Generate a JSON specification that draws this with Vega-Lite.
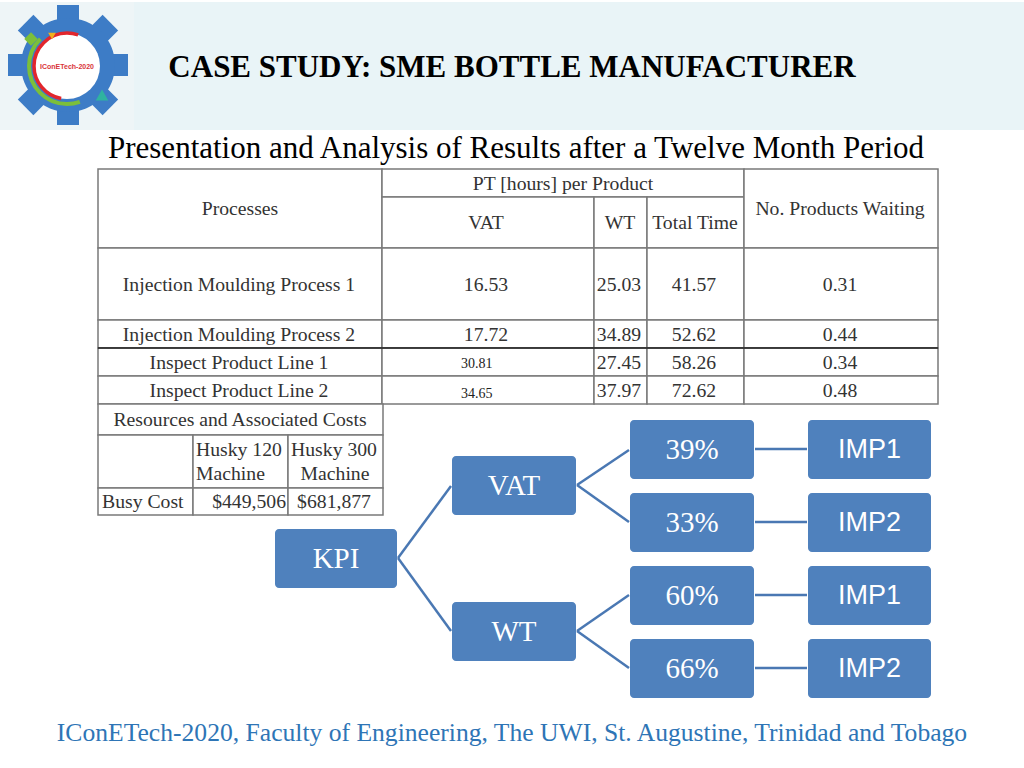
{
  "$schema": "https://vega.github.io/schema/vega-lite/v6.json",
  "width": 1024,
  "height": 768,
  "autosize": {"type": "fit", "contains": "padding"},
  "padding": 0,
  "background": "white",
  "config": {"view": {"stroke": null}},
  "datasets": {
    "band": [{"x": 0, "x2": 1024, "y": 2, "y2": 130}],
    "logoBg": [{"x": 0, "x2": 134, "y": 2, "y2": 130}],
    "gearBody": [{"x": 68, "y": 65}],
    "gearTeethA": [{"x": 117, "y": 65}, {"x": 68, "y": 16}, {"x": 19, "y": 65}, {"x": 68, "y": 114}],
    "gearTeethB": [{"x": 102.6, "y": 30.4}, {"x": 33.4, "y": 30.4}, {"x": 33.4, "y": 99.6}, {"x": 102.6, "y": 99.6}],
    "logoInner": [{"x": 67, "y": 66}],
    "logoLeaf": [{"x": 31, "y": 39}],
    "logoBolt": [{"x": 52, "y": 36}],
    "logoFlask": [{"x": 102, "y": 95}],
    "logoText": [{"x": 67, "y": 67, "t": "IConETech-2020"}],
    "title": [{"x": 512, "y": 68, "t": "CASE STUDY: SME BOTTLE MANUFACTURER"}],
    "subtitle": [{"x": 516, "y": 149, "t": "Presentation and Analysis of Results after a Twelve Month Period"}],
    "footer": [{"x": 512, "y": 733, "t": "IConETech-2020, Faculty of Engineering, The UWI, St. Augustine, Trinidad and Tobago"}],
    "cells": [
      {"x": 98, "x2": 382, "y": 169, "y2": 248},
      {"x": 382, "x2": 744, "y": 169, "y2": 197},
      {"x": 382, "x2": 594, "y": 197, "y2": 248},
      {"x": 594, "x2": 647, "y": 197, "y2": 248},
      {"x": 647, "x2": 744, "y": 197, "y2": 248},
      {"x": 744, "x2": 938, "y": 169, "y2": 248},
      {"x": 98, "x2": 382, "y": 248, "y2": 320},
      {"x": 382, "x2": 594, "y": 248, "y2": 320},
      {"x": 594, "x2": 647, "y": 248, "y2": 320},
      {"x": 647, "x2": 744, "y": 248, "y2": 320},
      {"x": 744, "x2": 938, "y": 248, "y2": 320},
      {"x": 98, "x2": 382, "y": 320, "y2": 348},
      {"x": 382, "x2": 594, "y": 320, "y2": 348},
      {"x": 594, "x2": 647, "y": 320, "y2": 348},
      {"x": 647, "x2": 744, "y": 320, "y2": 348},
      {"x": 744, "x2": 938, "y": 320, "y2": 348},
      {"x": 98, "x2": 382, "y": 348, "y2": 376},
      {"x": 382, "x2": 594, "y": 348, "y2": 376},
      {"x": 594, "x2": 647, "y": 348, "y2": 376},
      {"x": 647, "x2": 744, "y": 348, "y2": 376},
      {"x": 744, "x2": 938, "y": 348, "y2": 376},
      {"x": 98, "x2": 382, "y": 376, "y2": 404},
      {"x": 382, "x2": 594, "y": 376, "y2": 404},
      {"x": 594, "x2": 647, "y": 376, "y2": 404},
      {"x": 647, "x2": 744, "y": 376, "y2": 404},
      {"x": 744, "x2": 938, "y": 376, "y2": 404},
      {"x": 98, "x2": 383, "y": 404, "y2": 435},
      {"x": 98, "x2": 193, "y": 435, "y2": 488},
      {"x": 193, "x2": 288, "y": 435, "y2": 488},
      {"x": 288, "x2": 383, "y": 435, "y2": 488},
      {"x": 98, "x2": 193, "y": 488, "y2": 515},
      {"x": 193, "x2": 288, "y": 488, "y2": 515},
      {"x": 288, "x2": 383, "y": 488, "y2": 515}
    ],
    "darkLines": [{"x": 98, "x2": 938, "y": 348, "y2": 348}],
    "textCenter": [
      {"x": 240, "y": 209, "t": "Processes"},
      {"x": 563, "y": 184, "t": "PT [hours] per Product"},
      {"x": 486, "y": 223, "t": "VAT"},
      {"x": 620, "y": 223, "t": "WT"},
      {"x": 695, "y": 223, "t": "Total Time"},
      {"x": 840, "y": 209, "t": "No. Products Waiting"},
      {"x": 239, "y": 285, "t": "Injection Moulding Process 1"},
      {"x": 486, "y": 285, "t": "16.53"},
      {"x": 619, "y": 285, "t": "25.03"},
      {"x": 694, "y": 285, "t": "41.57"},
      {"x": 840, "y": 285, "t": "0.31"},
      {"x": 239, "y": 335, "t": "Injection Moulding Process 2"},
      {"x": 486, "y": 335, "t": "17.72"},
      {"x": 619, "y": 335, "t": "34.89"},
      {"x": 694, "y": 335, "t": "52.62"},
      {"x": 840, "y": 335, "t": "0.44"},
      {"x": 239, "y": 363, "t": "Inspect Product Line 1"},
      {"x": 619, "y": 363, "t": "27.45"},
      {"x": 694, "y": 363, "t": "58.26"},
      {"x": 840, "y": 363, "t": "0.34"},
      {"x": 239, "y": 391, "t": "Inspect Product Line 2"},
      {"x": 619, "y": 391, "t": "37.97"},
      {"x": 694, "y": 391, "t": "72.62"},
      {"x": 840, "y": 391, "t": "0.48"},
      {"x": 240, "y": 420, "t": "Resources and Associated Costs"},
      {"x": 334, "y": 450, "t": "Husky 300"},
      {"x": 335, "y": 474, "t": "Machine"},
      {"x": 334, "y": 502, "t": "$681,877"}
    ],
    "textLeft": [
      {"x": 196, "y": 450, "t": "Husky 120"},
      {"x": 196, "y": 474, "t": "Machine"},
      {"x": 102, "y": 502, "t": "Busy Cost"}
    ],
    "textRight": [
      {"x": 286, "y": 502, "t": "$449,506"}
    ],
    "textSmall": [
      {"x": 461, "y": 364, "t": "30.81"},
      {"x": 461, "y": 394, "t": "34.65"}
    ],
    "edges": [
      {"x": 398, "y": 558, "x2": 451, "y2": 486},
      {"x": 398, "y": 558, "x2": 451, "y2": 631},
      {"x": 577, "y": 485, "x2": 629, "y2": 450},
      {"x": 577, "y": 485, "x2": 629, "y2": 522},
      {"x": 577, "y": 631, "x2": 629, "y2": 595},
      {"x": 577, "y": 631, "x2": 629, "y2": 668},
      {"x": 755, "y": 449, "x2": 807, "y2": 449},
      {"x": 755, "y": 522, "x2": 807, "y2": 522},
      {"x": 755, "y": 595, "x2": 807, "y2": 595},
      {"x": 755, "y": 668, "x2": 807, "y2": 668}
    ],
    "nodes": [
      {"x": 275, "x2": 397, "y": 529, "y2": 588, "cx": 336, "cy": 558.5, "label": "KPI", "kind": "serif"},
      {"x": 452, "x2": 576, "y": 456, "y2": 515, "cx": 514, "cy": 485.5, "label": "VAT", "kind": "serif"},
      {"x": 452, "x2": 576, "y": 602, "y2": 661, "cx": 514, "cy": 631.5, "label": "WT", "kind": "serif"},
      {"x": 630, "x2": 754, "y": 420, "y2": 479, "cx": 692, "cy": 449.5, "label": "39%", "kind": "serif"},
      {"x": 630, "x2": 754, "y": 493, "y2": 552, "cx": 692, "cy": 522.5, "label": "33%", "kind": "serif"},
      {"x": 630, "x2": 754, "y": 566, "y2": 625, "cx": 692, "cy": 595.5, "label": "60%", "kind": "serif"},
      {"x": 630, "x2": 754, "y": 639, "y2": 698, "cx": 692, "cy": 668.5, "label": "66%", "kind": "serif"},
      {"x": 808, "x2": 931, "y": 420, "y2": 479, "cx": 869.5, "cy": 449.5, "label": "IMP1", "kind": "sans"},
      {"x": 808, "x2": 931, "y": 493, "y2": 552, "cx": 869.5, "cy": 522.5, "label": "IMP2", "kind": "sans"},
      {"x": 808, "x2": 931, "y": 566, "y2": 625, "cx": 869.5, "cy": 595.5, "label": "IMP1", "kind": "sans"},
      {"x": 808, "x2": 931, "y": 639, "y2": 698, "cx": 869.5, "cy": 668.5, "label": "IMP2", "kind": "sans"}
    ]
  },
  "encoding": {
    "x": {"field": "x", "type": "quantitative", "scale": {"domain": [0, 1024], "nice": false, "zero": false}, "axis": null},
    "y": {"field": "y", "type": "quantitative", "scale": {"domain": [0, 768], "nice": false, "zero": false, "reverse": true}, "axis": null}
  },
  "layer": [
    {"data": {"name": "band"}, "mark": {"type": "rect", "fill": "#e9f4f7"}, "encoding": {"x2": {"field": "x2"}, "y2": {"field": "y2"}}},
    {"data": {"name": "logoBg"}, "mark": {"type": "rect", "fill": "#eef5f7"}, "encoding": {"x2": {"field": "x2"}, "y2": {"field": "y2"}}},
    {"data": {"name": "gearTeethA"}, "mark": {"type": "point", "shape": "square", "filled": true, "size": 484, "color": "#3d7cc6", "opacity": 1}, "encoding": {}},
    {"data": {"name": "gearTeethB"}, "mark": {"type": "point", "shape": "square", "filled": true, "size": 484, "angle": 45, "color": "#3d7cc6", "opacity": 1}, "encoding": {}},
    {"data": {"name": "gearBody"}, "mark": {"type": "point", "shape": "circle", "filled": true, "size": 8836, "color": "#3d7cc6", "opacity": 1}, "encoding": {}},
    {"data": {"name": "logoInner"}, "mark": {"type": "point", "shape": "circle", "filled": true, "size": 4356, "color": "#ffffff", "opacity": 1}, "encoding": {}},
    {"data": {"name": "logoInner"}, "mark": {"type": "point", "shape": "circle", "filled": false, "size": 4356, "stroke": "#e2262c", "strokeWidth": 3.5, "strokeDash": [0.1, 57.5, 109, 40.5], "opacity": 1}, "encoding": {}},
    {"data": {"name": "logoInner"}, "mark": {"type": "point", "shape": "circle", "filled": false, "size": 5776, "stroke": "#7cbf3a", "strokeWidth": 4, "strokeDash": [0.1, 46.4, 102.8, 89.6], "opacity": 1}, "encoding": {}},
    {"data": {"name": "logoLeaf"}, "mark": {"type": "point", "shape": "diamond", "filled": true, "size": 180, "color": "#7cbf3a", "opacity": 1}, "encoding": {}},
    {"data": {"name": "logoBolt"}, "mark": {"type": "point", "shape": "triangle-down", "filled": true, "size": 60, "color": "#f2b01e", "opacity": 1}, "encoding": {}},
    {"data": {"name": "logoFlask"}, "mark": {"type": "point", "shape": "triangle-up", "filled": true, "size": 160, "color": "#2fb3a0", "opacity": 1}, "encoding": {}},
    {"data": {"name": "logoText"}, "mark": {"type": "text", "font": "Liberation Sans", "fontSize": 7, "fontWeight": "bold", "color": "#d9343a", "align": "center", "baseline": "middle"}, "encoding": {"text": {"field": "t"}}},
    {"data": {"name": "title"}, "mark": {"type": "text", "font": "Liberation Serif", "fontSize": 31, "fontWeight": "bold", "color": "#000000", "align": "center", "baseline": "middle"}, "encoding": {"text": {"field": "t"}}},
    {"data": {"name": "subtitle"}, "mark": {"type": "text", "font": "Liberation Serif", "fontSize": 31, "color": "#000000", "align": "center", "baseline": "middle"}, "encoding": {"text": {"field": "t"}}},
    {"data": {"name": "cells"}, "mark": {"type": "rect", "fill": "#ffffff", "stroke": "#7a7a7a", "strokeWidth": 1.5}, "encoding": {"x2": {"field": "x2"}, "y2": {"field": "y2"}}},
    {"data": {"name": "darkLines"}, "mark": {"type": "rule", "color": "#222222", "strokeWidth": 1.5}, "encoding": {"x2": {"field": "x2"}, "y2": {"field": "y2"}}},
    {"data": {"name": "textCenter"}, "mark": {"type": "text", "font": "Liberation Serif", "fontSize": 19.7, "color": "#333333", "align": "center", "baseline": "middle"}, "encoding": {"text": {"field": "t"}}},
    {"data": {"name": "textLeft"}, "mark": {"type": "text", "font": "Liberation Serif", "fontSize": 19.7, "color": "#333333", "align": "left", "baseline": "middle"}, "encoding": {"text": {"field": "t"}}},
    {"data": {"name": "textRight"}, "mark": {"type": "text", "font": "Liberation Serif", "fontSize": 19.7, "color": "#333333", "align": "right", "baseline": "middle"}, "encoding": {"text": {"field": "t"}}},
    {"data": {"name": "textSmall"}, "mark": {"type": "text", "font": "Liberation Serif", "fontSize": 14, "color": "#222222", "align": "left", "baseline": "middle"}, "encoding": {"text": {"field": "t"}}},
    {"data": {"name": "edges"}, "mark": {"type": "rule", "color": "#4a78b3", "strokeWidth": 2.5}, "encoding": {"x2": {"field": "x2"}, "y2": {"field": "y2"}}},
    {"data": {"name": "nodes"}, "mark": {"type": "rect", "fill": "#4f81bd", "cornerRadius": 4}, "encoding": {"x2": {"field": "x2"}, "y2": {"field": "y2"}}},
    {"data": {"name": "nodes"}, "transform": [{"filter": "datum.kind === 'serif'"}], "mark": {"type": "text", "font": "Liberation Serif", "fontSize": 29, "color": "#ffffff", "align": "center", "baseline": "middle"}, "encoding": {"x": {"field": "cx", "type": "quantitative"}, "y": {"field": "cy", "type": "quantitative"}, "text": {"field": "label"}}},
    {"data": {"name": "nodes"}, "transform": [{"filter": "datum.kind === 'sans'"}], "mark": {"type": "text", "font": "Liberation Sans", "fontSize": 27, "color": "#ffffff", "align": "center", "baseline": "middle"}, "encoding": {"x": {"field": "cx", "type": "quantitative"}, "y": {"field": "cy", "type": "quantitative"}, "text": {"field": "label"}}},
    {"data": {"name": "footer"}, "mark": {"type": "text", "font": "Liberation Serif", "fontSize": 25.6, "color": "#2e75b6", "align": "center", "baseline": "middle"}, "encoding": {"text": {"field": "t"}}}
  ]
}
